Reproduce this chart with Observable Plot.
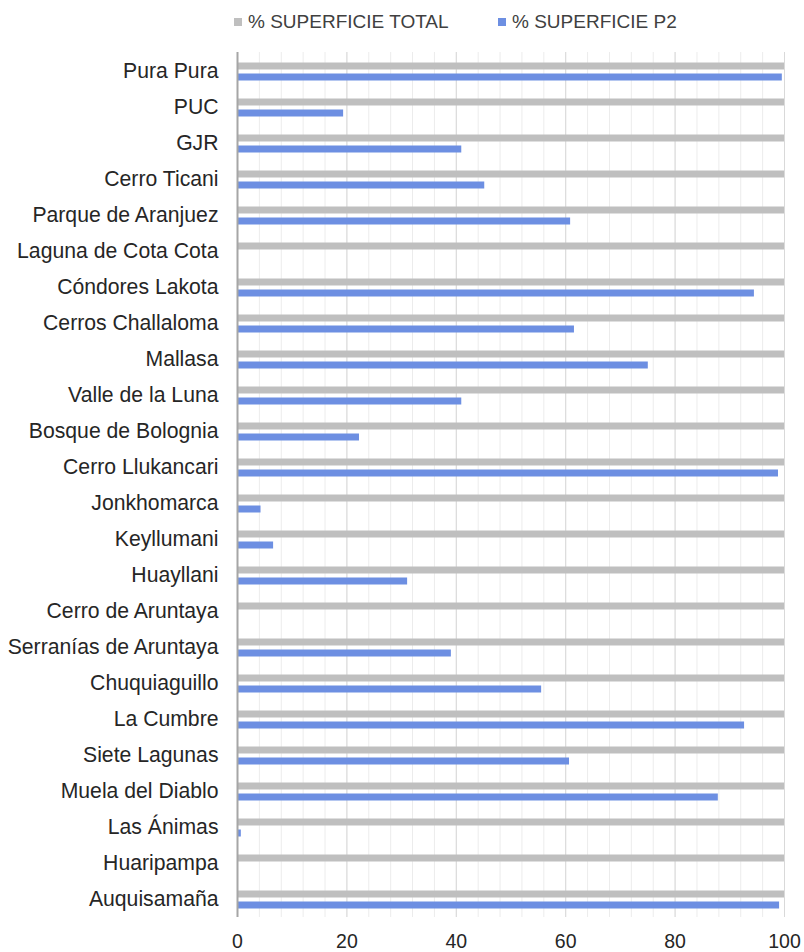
<!DOCTYPE html>
<html>
<head>
<meta charset="utf-8">
<script src="https://cdn.jsdelivr.net/npm/d3@7"></script>
<script src="https://cdn.jsdelivr.net/npm/@observablehq/plot@0.6"></script>
<style>
  body { margin: 0; background: #fff; font-family: "Liberation Sans", Arial, sans-serif; }
  #legend { position: relative; height: 40px; width: 804px; font-size: 19px; color: #404040; }
  .item { position: absolute; top: 11px; display: flex; align-items: center; white-space: nowrap; }
  .sw { width: 8px; height: 8px; margin-right: 6px; }
</style>
</head>
<body>
<div id="legend"></div>
<div id="chart"></div>
<script>
const categories = [
  "Pura Pura", "PUC", "GJR", "Cerro Ticani", "Parque de Aranjuez", "Laguna de Cota Cota",
  "Cóndores Lakota", "Cerros Challaloma", "Mallasa", "Valle de la Luna", "Bosque de Bolognia",
  "Cerro Llukancari", "Jonkhomarca", "Keyllumani", "Huayllani", "Cerro de Aruntaya",
  "Serranías de Aruntaya", "Chuquiaguillo", "La Cumbre", "Siete Lagunas", "Muela del Diablo",
  "Las Ánimas", "Huaripampa", "Auquisamaña"
];
const supTotal = [100,100,100,100,100,100,100,100,100,100,100,100,100,100,100,100,100,100,100,100,100,100,100,100];
const supP2 = [99.6, 19.4, 41.0, 45.2, 60.9, 0, 94.5, 61.6, 75.1, 41.0, 22.3, 98.9, 4.3, 6.6, 31.1, 0, 39.1, 55.6, 92.7, 60.7, 87.9, 0.7, 0, 99.1];
const seriesNames = ["% SUPERFICIE TOTAL", "% SUPERFICIE P2"];
const xTicks = [0, 20, 40, 60, 80, 100];
const minorTicks = d3.range(0, 101, 4);

const colors = ["#BFBFBF", "#6D8FE2"];

const data = categories.map((c, i) => ({name: c, total: supTotal[i], p2: supP2[i]}));

// legend
const legend = document.getElementById("legend");
const legendX = [234, 498];
seriesNames.forEach((s, i) => {
  const it = document.createElement("div");
  it.className = "item";
  it.style.left = legendX[i] + "px";
  it.innerHTML = `<span class="sw" style="background:${colors[i]}"></span><span>${s}</span>`;
  legend.appendChild(it);
});

const chart = Plot.plot({
  width: 804,
  height: 912,
  marginTop: 12,
  marginBottom: 35,
  marginLeft: 237,
  marginRight: 20,
  style: {fontFamily: "'Liberation Sans', Arial, sans-serif", color: "#262626", background: "#fff"},
  x: {domain: [0, 100]},
  y: {domain: categories, type: "band", padding: 0},
  marks: [
    Plot.ruleX(minorTicks, {stroke: "#ececec", strokeWidth: 1}),
    Plot.ruleX(xTicks.slice(1), {stroke: "#d9d9d9", strokeWidth: 1}),
    Plot.barX(data, {x: "total", y: "name", fill: colors[0], insetTop: 9.5, insetBottom: 19.5}),
    Plot.barX(data, {x: "p2", y: "name", fill: colors[1], insetTop: 20.5, insetBottom: 8.5}),
    Plot.ruleX([0], {stroke: "#a6a6a6", strokeWidth: 2}),
    Plot.axisX({ticks: xTicks, tickSize: 0, tickPadding: 17, fontSize: 19.5, label: null}),
    Plot.axisY({tickSize: 0, tickPadding: 19, fontSize: 21.2, label: null})
  ]
});
document.getElementById("chart").appendChild(chart);
</script>
</body>
</html>
